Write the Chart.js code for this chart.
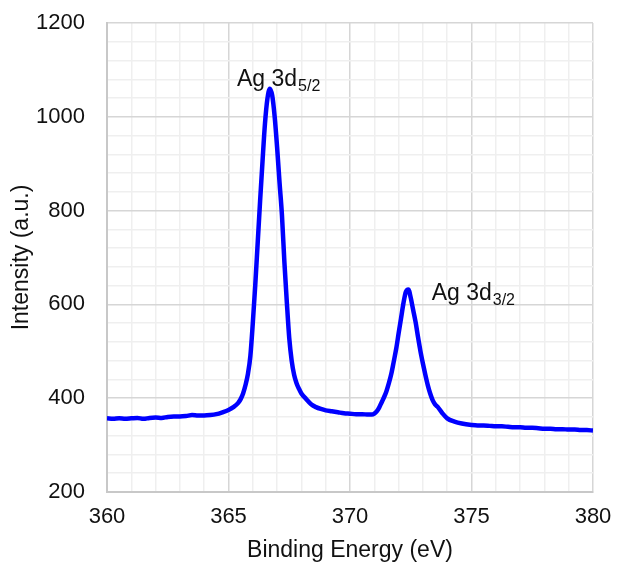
<!DOCTYPE html>
<html>
<head>
<meta charset="utf-8">
<script src="https://cdn.jsdelivr.net/npm/chart.js@4/dist/chart.umd.min.js"></script>
<style>
  body { margin: 0; background: #fff; }
</style>
</head>
<body>
<canvas id="chart" width="617" height="563"></canvas>
<script>
// binding energy (eV) and intensity (a.u.)
var energy = [
  360.0, 360.25, 360.5, 360.75, 361.0, 361.25, 361.5, 361.75, 362.0, 362.25,
  362.5, 362.75, 363.0, 363.25, 363.5, 363.75, 364.0, 364.25, 364.5, 364.75,
  365.0, 365.2, 365.4, 365.5, 365.6, 365.7, 365.8, 365.9, 366.0, 366.1,
  366.2, 366.3, 366.4, 366.5, 366.6, 366.7, 366.8, 366.9, 367.0, 367.1,
  367.2, 367.3, 367.4, 367.5, 367.6, 367.7, 367.8, 367.9, 368.0, 368.2,
  368.4, 368.6, 368.8, 369.0, 369.25, 369.5, 369.75, 370.0, 370.25, 370.5,
  370.75, 370.9, 371.0, 371.1, 371.2, 371.3, 371.4, 371.5, 371.6, 371.7,
  371.8, 371.9, 372.0, 372.1, 372.2, 372.3, 372.4, 372.5, 372.6, 372.7,
  372.8, 372.9, 373.0, 373.1, 373.2, 373.3, 373.4, 373.5, 373.6, 373.8,
  374.0, 374.3, 374.6, 375.0, 375.25, 375.5, 375.75, 376.0, 376.25, 376.5,
  376.75, 377.0, 377.25, 377.5, 377.75, 378.0, 378.25, 378.5, 378.75, 379.0,
  379.25, 379.5, 379.75, 380.0
];
var intensity = [
  357, 356, 357, 356, 357, 358, 356, 358, 359, 358,
  360, 361, 361, 362, 364, 363, 363, 364, 366, 370,
  375, 381, 390, 398, 410, 428, 452, 490, 560, 640,
  730, 820, 905, 985, 1038, 1060, 1045, 1000, 935, 860,
  790, 690, 605, 528, 480, 450, 432, 420, 410, 398,
  387, 381, 377, 374, 372, 370, 368, 367, 366, 366,
  365, 365, 367, 372, 380, 391, 402, 415, 432, 452,
  478, 505, 538, 570, 603, 627, 632, 614, 588, 562,
  530, 500, 474, 450, 428, 410, 396, 387, 382, 368,
  357, 350, 346, 343, 342, 342, 341, 340, 340, 339,
  338, 338, 337, 337, 336, 335, 335, 334, 334, 333,
  333, 332, 332, 331
];

var xTicks = [360, 365, 370, 375, 380];
var yTicks = [200, 400, 600, 800, 1000, 1200];

var points = energy.map(function (e, i) {
  return { x: e, y: intensity[i] };
});

var font = "'Liberation Sans', Arial, sans-serif";

// peak labels with a subscript, anchored in data units
var peakLabels = {
  id: 'peakLabels',
  afterDatasetsDraw: function (chart, args, opts) {
    var ctx = chart.ctx;
    var xs = chart.scales.x, ys = chart.scales.y;
    ctx.save();
    ctx.fillStyle = '#111';
    ctx.textBaseline = 'alphabetic';
    ctx.textAlign = 'left';
    opts.items.forEach(function (it) {
      var px = xs.getPixelForValue(it.x);
      var py = ys.getPixelForValue(it.y);
      ctx.font = '23px ' + font;
      ctx.fillText(it.text, px, py);
      var w = ctx.measureText(it.text).width;
      ctx.font = '16px ' + font;
      ctx.fillText(it.sub, px + w + 1, py + 5);
    });
    ctx.restore();
  }
};

new Chart(document.getElementById('chart'), {
  type: 'line',
  data: {
    datasets: [{
      data: points,
      borderColor: '#0000ff',
      borderWidth: 4.5,
      pointRadius: 0,
      fill: false,
      cubicInterpolationMode: 'monotone'
    }]
  },
  plugins: [peakLabels],
  options: {
    responsive: false,
    animation: false,
    layout: { padding: { top: 23, right: 24, left: 0, bottom: 0 } },
    plugins: {
      legend: { display: false },
      tooltip: { enabled: false },
      peakLabels: {
        items: [
          { x: 365.35, y: 1066, text: 'Ag 3d', sub: '5/2' },
          { x: 373.36, y: 609, text: 'Ag 3d', sub: '3/2' }
        ]
      }
    },
    scales: {
      x: {
        type: 'linear',
        min: 360,
        max: 380,
        afterFit: function (s) {
          s.height = 71;
          s.paddingLeft = 0;
          s.paddingRight = 0;
        },
        ticks: {
          stepSize: 1,
          padding: 12,
          maxRotation: 0,
          autoSkip: false,
          color: '#111',
          font: { family: font, size: 22 },
          callback: function (v) { return xTicks.indexOf(v) >= 0 ? v : ''; }
        },
        grid: {
          drawTicks: false,
          lineWidth: 1.5,
          color: function (c) { return c.tick && c.tick.value % 5 === 0 ? '#d6d6d6' : '#efefef'; }
        },
        border: { color: '#c8c8c8', width: 2 },
        title: {
          display: true,
          text: 'Binding Energy (eV)',
          color: '#111',
          font: { family: font, size: 23, lineHeight: 1 },
          padding: { top: 0, bottom: 1 }
        }
      },
      y: {
        min: 200,
        max: 1200,
        afterFit: function (s) {
          s.width = 107;
          s.paddingTop = 0;
          s.paddingBottom = 0;
        },
        ticks: {
          stepSize: 40,
          padding: 22,
          autoSkip: false,
          color: '#111',
          font: { family: font, size: 22 },
          callback: function (v) { return yTicks.indexOf(v) >= 0 ? v : ''; }
        },
        grid: {
          drawTicks: false,
          lineWidth: 1.5,
          color: function (c) { return c.tick && c.tick.value % 200 === 0 ? '#d6d6d6' : '#efefef'; }
        },
        border: { color: '#c8c8c8', width: 2 },
        title: {
          display: true,
          text: 'Intensity (a.u.)',
          color: '#111',
          font: { family: font, size: 23, lineHeight: 1 },
          padding: { top: 10, bottom: 0 }
        }
      }
    }
  }
});
</script>
</body>
</html>
